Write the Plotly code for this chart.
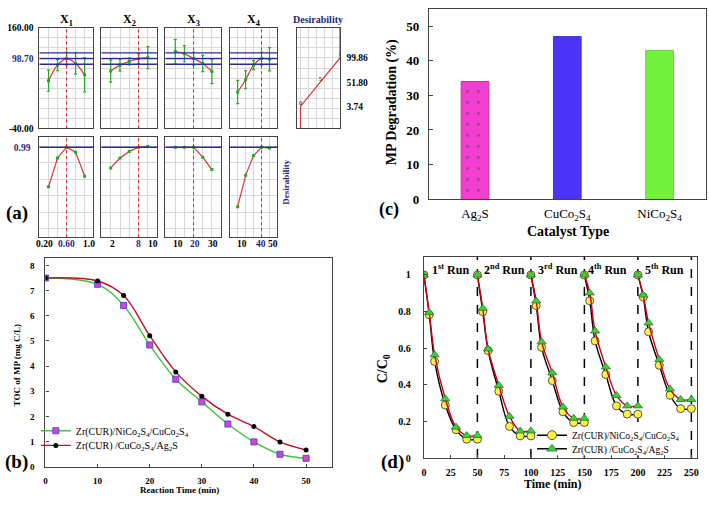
import plotly.graph_objects as go

W, H = 709, 507
FONT = "Liberation Serif"
NAVY = "#1f1f86"

# ---------------- Panel (a) data ----------------
factor_names = ["X<sub>1</sub>", "X<sub>2</sub>", "X<sub>3</sub>", "X<sub>4</sub>"]
x1_levels = [0.2, 0.4, 0.6, 0.8, 1.0]
x1_resp = [54.8, 85.7, 98.7, 89.0, 66.4]
x1_err = [21, 11, 13, 21, 34]
x1_des = [0.51, 0.86, 0.99, 0.93, 0.64]
x2_levels = [2, 4, 6, 8, 10]
x2_resp = [74.1, 85.7, 93.1, 98.7, 100.6]
x2_err = [22, 12, 7, 10, 22]
x2_des = [0.74, 0.86, 0.94, 0.99, 1.0]
x3_levels = [10, 15, 20, 25, 30]
x3_resp = [112.8, 108.4, 98.7, 89.0, 73.0]
x3_err = [24, 16, 13, 16, 24]
x3_des = [0.99, 0.99, 0.99, 0.87, 0.72]
x4_levels = [10, 20, 30, 40, 50]
x4_resp = [32.3, 56.8, 85.7, 98.7, 97.3]
x4_err = [23, 18, 9, 13, 23]
x4_des = [0.27, 0.65, 0.89, 0.99, 0.98]
optimum = [0.60, 8, 20, 40]
opt_response = 98.70
conf_band = [87.5, 110.0]
opt_desirability = 0.99
factor_ranges = [[0, 1.19], [0, 12], [4.6, 35], [0.4, 60]]
factor_ticks = [[0.2, 0.6, 1.0], [2, 8, 10], [10, 20, 30], [10, 40, 50]]
factor_ticktext = [["0.20", "0.60", "1.0"], ["2", "8", "10"], ["10", "20", "30"], ["10", "40", "50"]]
factor_tick_shift = [[-4, 0, 4.5], [1.5, 0, 5], [2.4, 1.6, 0.7], [4.7, -0.7, 4]]
resp_ticks = [160, 98.70, -40]
resp_ticktext = ["160.00", "98.70", "-40.00"]
des_fn_x = [0, 0, 0.5, 1, 1]
des_fn_y = [-40, 3.74, 51.80, 99.86, 160]
des_ticks = [99.86, 51.80, 3.74]

# ---------------- Panel (b) data ----------------
time_b = [0, 10, 15, 20, 25, 30, 35, 40, 45, 50]
toc_ni = [7.5, 7.25, 6.41, 4.84, 3.48, 2.58, 1.70, 0.99, 0.50, 0.34]
toc_ag = [7.5, 7.38, 6.80, 5.21, 3.77, 2.80, 2.09, 1.60, 0.99, 0.67]
name_ni = "Zr(CUR)/NiCo<sub>2</sub>S<sub>4</sub>/CuCo<sub>2</sub>S<sub>4</sub>"
name_ag = "Zr(CUR) /CuCo<sub>2</sub>S<sub>4</sub>/Ag<sub>2</sub>S"

# ---------------- Panel (c) data ----------------
catalysts = ["Ag<sub>2</sub>S", "CuCo<sub>2</sub>S<sub>4</sub>", "NiCo<sub>2</sub>S<sub>4</sub>"]
degradation = [34, 47, 43]
bar_colors = ["#f23fd2", "#4b34f6", "#72f23c"]

# ---------------- Panel (d) data ----------------
run_times = [0, 5, 10, 20, 30, 40, 50]
run_length = 50
ni_runs = [[1, 0.783, 0.528, 0.29, 0.155, 0.103, 0.103],
           [1, 0.80, 0.587, 0.365, 0.173, 0.121, 0.121],
           [1, 0.833, 0.605, 0.423, 0.253, 0.194, 0.194],
           [1, 0.859, 0.64, 0.457, 0.285, 0.24, 0.24],
           [1, 0.88, 0.69, 0.507, 0.343, 0.27, 0.27]]
ag_runs = [[1, 0.795, 0.564, 0.324, 0.169, 0.123, 0.123],
           [1, 0.818, 0.596, 0.397, 0.228, 0.148, 0.148],
           [1, 0.858, 0.635, 0.466, 0.279, 0.217, 0.217],
           [1, 0.902, 0.694, 0.498, 0.342, 0.285, 0.285],
           [1, 0.89, 0.738, 0.539, 0.377, 0.32, 0.32]]
run_labels = ["1<sup>st</sup> Run", "2<sup>nd</sup> Run", "3<sup>rd</sup> Run", "4<sup>th</sup> Run", "5<sup>th</sup> Run"]
run_label_x = [25, 75, 125, 172, 225]
run_bounds = [50, 100, 150, 200, 250]


def xd(l, r):
    return [l / W, r / W]


def yd(t, b):
    return [1 - b / H, 1 - t / H]


box = dict(showline=True, mirror=True, linecolor="#444", linewidth=1.3,
           zeroline=False, showgrid=False, tickangle=0)
axes = {}


def add_axes(i, xdom, ydom, xkw, ykw):
    xn = "xaxis" if i == 1 else f"xaxis{i}"
    yn = "yaxis" if i == 1 else f"yaxis{i}"
    xa = "x" if i == 1 else f"x{i}"
    ya = "y" if i == 1 else f"y{i}"
    axes[xn] = {**box, "domain": xdom, "anchor": ya, **xkw}
    axes[yn] = {**box, "domain": ydom, "anchor": xa, **ykw}


def ref(i):
    return ("x", "y") if i == 1 else (f"x{i}", f"y{i}")


def note(text, px, py, size, angle=0, color="black"):
    return dict(text=text, xref="paper", yref="paper", x=px / W, y=1 - py / H,
                xanchor="center", yanchor="middle", showarrow=False, textangle=angle,
                font=dict(size=size, family=FONT, color=color))


fig = go.Figure()
shapes = []
annotations = []
GRID = "#d8d8d8"

levels = [x1_levels, x2_levels, x3_levels, x4_levels]
resps = [x1_resp, x2_resp, x3_resp, x4_resp]
errs = [x1_err, x2_err, x3_err, x4_err]
dess = [x1_des, x2_des, x3_des, x4_des]
col_px = [(36.7, 90.7), (99, 155), (163.3, 219.3), (228.3, 276)]
top_y = (23.3, 126.7)
bot_y = (135, 238.3)

for k in range(4):
    it, ib = k + 1, k + 6
    ytext = [f"<b>{t}</b>" if v != opt_response else f"<b><span style='color:{NAVY}'>{t}</span></b>"
             for v, t in zip(resp_ticks, resp_ticktext)]
    add_axes(it, xd(*col_px[k]), yd(*top_y),
             dict(range=factor_ranges[k], tickmode="array", tickvals=[], showticklabels=False,
                  minor=dict(tickmode="array", tickvals=levels[k], showgrid=True, gridcolor=GRID, ticks="")),
             dict(range=[-40, 160], tickmode="array",
                  tickvals=resp_ticks if k == 0 else [], ticktext=ytext if k == 0 else [],
                  showticklabels=(k == 0), tickfont=dict(size=9.5, family=FONT), ticklabelstandoff=3,
                  minor=dict(tickmode="linear", tick0=-40, dtick=20, showgrid=True, gridcolor=GRID, ticks="")))
    add_axes(ib, xd(*col_px[k]), yd(*bot_y),
             dict(range=factor_ranges[k], tickmode="array", tickvals=[], showticklabels=False, ticks="",
                  minor=dict(tickmode="array", tickvals=levels[k], showgrid=True, gridcolor=GRID, ticks="")),
             dict(range=[-0.1, 1.12], tickmode="array",
                  tickvals=[opt_desirability] if k == 0 else [],
                  ticktext=[f"<b><span style='color:{NAVY}'>{opt_desirability:.2f}</span></b>"] if k == 0 else [],
                  showticklabels=(k == 0), tickfont=dict(size=9.5, family=FONT), ticklabelstandoff=6,
                  minor=dict(tickmode="linear", tick0=0, dtick=0.2, showgrid=True, gridcolor=GRID, ticks="")))
    xa, ya = ref(it)
    for yv in [opt_response] + conf_band:
        shapes.append(dict(type="line", xref=f"{xa} domain", yref=ya, x0=0, x1=1, y0=yv, y1=yv,
                           line=dict(color="#2a2a9c", width=1.4), layer="above"))
    shapes.append(dict(type="line", xref=xa, yref=f"{ya} domain", x0=optimum[k], x1=optimum[k], y0=0, y1=1,
                       line=dict(color="#e02020", width=1, dash="dot"), layer="above"))
    fig.add_trace(go.Scatter(x=levels[k], y=resps[k], xaxis=xa, yaxis=ya, mode="lines+markers",
                             line=dict(color="#e0303a", width=1.2, shape="spline"),
                             marker=dict(color="#22aa22", size=3, symbol="square"),
                             error_y=dict(type="data", array=errs[k], color="#22aa22", thickness=1.2, width=1.5),
                             showlegend=False))
    xb, yb = ref(ib)
    shapes.append(dict(type="line", xref=f"{xb} domain", yref=yb, x0=0, x1=1, y0=opt_desirability,
                       y1=opt_desirability, line=dict(color="#2a2a9c", width=1.4), layer="above"))
    shapes.append(dict(type="line", xref=xb, yref=f"{yb} domain", x0=optimum[k], x1=optimum[k], y0=0, y1=1,
                       line=dict(color="#e02020", width=1, dash="dot"), layer="above"))
    fig.add_trace(go.Scatter(x=levels[k], y=dess[k], xaxis=xb, yaxis=yb, mode="lines+markers",
                             line=dict(color="#e0303a", width=1.2),
                             marker=dict(color="#22aa22", size=3, symbol="square"), showlegend=False))
    annotations.append(note(f"<b>{factor_names[k]}</b>", (col_px[k][0] + col_px[k][1]) / 2, 15, 12))
    for v, t, s in zip(factor_ticks[k], factor_ticktext[k], factor_tick_shift[k]):
        col = NAVY if v == optimum[k] else "black"
        annotations.append(dict(text=f"<b>{t}</b>", xref=xb, yref="paper", x=v, y=1 - 245.5 / H,
                                xshift=s, xanchor="center", yanchor="middle", showarrow=False,
                                font=dict(size=9.5, family=FONT, color=col)))

# desirability column
add_axes(5, xd(296, 339.3), yd(*top_y),
         dict(range=[-0.08, 1.01], tickmode="array", tickvals=[], showticklabels=False,
              minor=dict(tickmode="linear", tick0=0, dtick=0.2, showgrid=True, gridcolor=GRID, ticks="")),
         dict(range=[-40, 160], side="right", tickmode="array", tickvals=des_ticks,
              ticktext=[f"<b>{v:.2f}</b>" for v in des_ticks], tickfont=dict(size=9.5, family=FONT), ticks="",
              ticklabelstandoff=3,
              minor=dict(tickmode="linear", tick0=-40, dtick=20, showgrid=True, gridcolor=GRID, ticks="")))
fig.add_trace(go.Scatter(x=des_fn_x, y=des_fn_y, xaxis="x5", yaxis="y5", mode="lines",
                         line=dict(color="#e0303a", width=1.2), showlegend=False))
fig.add_trace(go.Scatter(x=des_fn_x[1:4], y=des_fn_y[1:4], xaxis="x5", yaxis="y5", mode="text",
                         text=["0", "5", "1"], textposition="top center",
                         textfont=dict(size=6, family=FONT), showlegend=False))
annotations.append(note("<b>Desirability</b>", 317, 15, 10, color=NAVY))
annotations.append(note("<b>Desirability</b>", 285, 182, 9, angle=-90, color=NAVY))
annotations.append(note("<b>(a)</b>", 14, 213, 19))

# ---------------- Panel (c) ----------------
add_axes(10, xd(428.3, 706.7), yd(4, 199.3),
         dict(range=[-0.5, 2.5], tickfont=dict(size=13, family=FONT), ticks="", ticklabelstandoff=2),
         dict(range=[0, 55], tickmode="array", tickvals=[0, 10, 20, 30, 40, 50],
              ticktext=[f"<b>{v}</b>" for v in [0, 10, 20, 30, 40, 50]],
              tickfont=dict(size=13, family=FONT), ticks="inside", ticklen=4, tickcolor="#444",
              ticklabelstandoff=6))
fig.add_trace(go.Bar(x=catalysts, y=degradation, xaxis="x10", yaxis="y10", width=0.3,
                     marker=dict(color=bar_colors, line=dict(color=["#d0309a", "#3a3ad0", "#66d040"], width=1),
                                 pattern=dict(shape=[".", "", ""], fgcolor="#e8304a", size=11, solidity=0.05)),
                     showlegend=False))
annotations.append(note("<b>MP Degradation (%)</b>", 392, 100, 14, angle=-90))
annotations.append(note("<b>Catalyst Type</b>", 568, 232, 14))
annotations.append(note("<b>(c)</b>", 388, 210, 18))

# ---------------- Panel (b) ----------------
add_axes(11, xd(42.7, 331), yd(260, 474),
         dict(range=[0, 55], tickmode="array", tickvals=[0, 10, 20, 30, 40, 50],
              ticktext=[f"<b>{v}</b>" for v in [0, 10, 20, 30, 40, 50]],
              tickfont=dict(size=9, family=FONT), ticks="inside", ticklen=3, tickcolor="#444",
              ticklabelstandoff=5),
         dict(range=[0, 8.28], tickmode="array", tickvals=list(range(9)),
              ticktext=[f"<b>{v}</b>" for v in range(9)],
              tickfont=dict(size=9, family=FONT), ticks="inside", ticklen=3, tickcolor="#444",
              ticklabelstandoff=8))
fig.add_trace(go.Scatter(x=time_b, y=toc_ni, xaxis="x11", yaxis="y11", mode="lines+markers", name=name_ni,
                         line=dict(color="#3cc43c", width=1.4, shape="spline"),
                         marker=dict(symbol="square", size=6, color="#e040c8", line=dict(color="#4a4ae0", width=1)),
                         legend="legend"))
fig.add_trace(go.Scatter(x=time_b, y=toc_ag, xaxis="x11", yaxis="y11", mode="lines+markers", name=name_ag,
                         line=dict(color="#c0102a", width=1.4, shape="spline"),
                         marker=dict(symbol="circle", size=5, color="black"), legend="legend3"))
annotations.append(note("<b>TOC of MP (mg C/L)</b>", 14, 370, 9, angle=-90))
annotations.append(note("<b>Reaction Time (min)</b>", 178, 498, 9))
annotations.append(note("<b>(b)</b>", 14, 469, 19))

# ---------------- Panel (d) ----------------
d_ticks = [0, 25, 50, 75, 100, 125, 150, 175, 200, 225, 250]
add_axes(12, xd(423.3, 698.3), yd(258.3, 465),
         dict(range=[0, 255.6], tickmode="array", tickvals=d_ticks,
              ticktext=[f"<b>{v}</b>" for v in d_ticks],
              tickfont=dict(size=10, family=FONT), ticks="inside", ticklen=3, tickcolor="#444",
              ticklabelstandoff=5),
         dict(range=[0, 1.1], tickmode="array", tickvals=[0, 0.2, 0.4, 0.6, 0.8, 1],
              ticktext=["<b>0</b>", "<b>0.2</b>", "<b>0.4</b>", "<b>0.6</b>", "<b>0.8</b>", "<b>1</b>"],
              tickfont=dict(size=10, family=FONT), ticks="inside", ticklen=3, tickcolor="#444",
              ticklabelstandoff=10))


def runs_to_xy(runs):
    xs, ys = [], []
    for r, vals in enumerate(runs):
        xs += [r * run_length + t for t in run_times] + [None]
        ys += list(vals) + [None]
    return xs, ys


xn, yn = runs_to_xy(ni_runs)
xg, yg = runs_to_xy(ag_runs)
fig.add_trace(go.Scatter(x=xn, y=yn, xaxis="x12", yaxis="y12", mode="lines+markers",
                         line=dict(color="black", width=1.4, shape="spline"),
                         marker=dict(symbol="circle", size=8, color="#fff23a", line=dict(color="#555", width=1)),
                         showlegend=False))
fig.add_trace(go.Scatter(x=xg, y=yg, xaxis="x12", yaxis="y12", mode="lines+markers",
                         line=dict(color="#d00010", width=1.4, shape="spline"),
                         marker=dict(symbol="triangle-up", size=8, color="#3ad23a", line=dict(color="#2a7a2a", width=0.8)),
                         showlegend=False))
fig.add_trace(go.Scatter(x=[None], y=[None], xaxis="x12", yaxis="y12", mode="lines+markers", name=name_ni,
                         line=dict(color="black", width=1.4),
                         marker=dict(symbol="circle", size=9, color="#fff23a", line=dict(color="#555", width=1)),
                         legend="legend2"))
fig.add_trace(go.Scatter(x=[None], y=[None], xaxis="x12", yaxis="y12", mode="lines+markers", name=name_ag,
                         line=dict(color="black", width=1.4),
                         marker=dict(symbol="triangle-up", size=9, color="#3ad23a", line=dict(color="#2a7a2a", width=0.8)),
                         legend="legend4"))
for b in run_bounds:
    shapes.append(dict(type="line", xref="x12", yref="y12 domain", x0=b, x1=b, y0=0, y1=1,
                       line=dict(color="black", width=1.5, dash="dash"), layer="below"))
# white patch behind the (d) legend, as in the original
shapes.append(dict(type="rect", xref="paper", yref="paper", x0=548 / W, x1=689 / W,
                   y0=1 - 462 / H, y1=1 - 435 / H, fillcolor="white", line=dict(width=0), layer="above"))
for lab, lx in zip(run_labels, run_label_x):
    annotations.append(dict(text=f"<b>{lab}</b>", xref="x12", yref="y12", x=lx, y=1.03, showarrow=False,
                            xanchor="center", yanchor="middle", font=dict(size=12, family=FONT)))
annotations.append(note("<b>C/C<sub>0</sub></b>", 383, 373, 14, angle=-90))
annotations.append(note("<b>Time (min)</b>", 553, 492, 12))
annotations.append(note("<b>(d)</b>", 392, 469, 19))


def leg(px, py, size):
    return dict(x=px / W, y=1 - py / H, xanchor="left", yanchor="middle", bgcolor="rgba(0,0,0,0)",
                font=dict(size=size, family=FONT), itemwidth=30, tracegroupgap=0)


fig.update_layout(
    width=W, height=H, margin=dict(l=0, r=0, t=0, b=0),
    plot_bgcolor="white", paper_bgcolor="white",
    font=dict(family=FONT, color="black"),
    shapes=shapes, annotations=annotations,
    legend=leg(33, 437, 10),
    legend3=leg(33, 452, 10),
    legend2=leg(532, 441.5, 9.5),
    legend4=leg(532, 455.5, 9.5),
    **axes,
)
fig.write_html("out.html", config={"displayModeBar": False},
               post_script="document.body.style.margin='0';document.body.style.overflow='hidden';")
